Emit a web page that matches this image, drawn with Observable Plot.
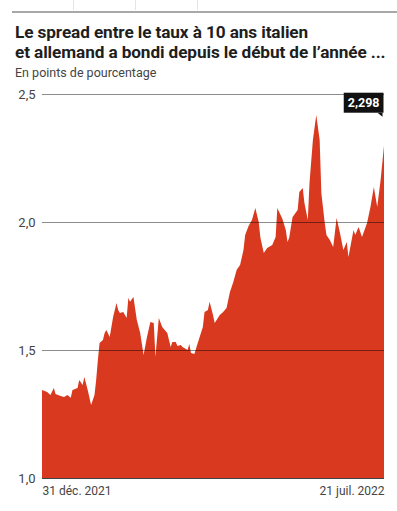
<!DOCTYPE html>
<html>
<head>
<meta charset="utf-8">
<script src="https://cdn.jsdelivr.net/npm/d3@7"></script>
<script src="https://cdn.jsdelivr.net/npm/@observablehq/plot@0.6"></script>
<style>
  html, body { margin: 0; padding: 0; background: #fff; width: 397px; height: 511px; overflow: hidden; }
  #wrap { position: relative; width: 397px; height: 511px; font-family: Roboto, "Noto Sans", sans-serif; }
  .vline { position: absolute; top: 0; width: 1px; height: 10px; background: #e4e4e4; }
  #topline { position: absolute; left: 12px; right: 0; top: 11px; height: 2px; background: #a8a8a8; }
  #title { position: absolute; left: 15px; top: 22px; font-size: 17.2px; line-height: 20px; font-weight: 700; color: #1e1e1e; letter-spacing: -0.1px; white-space: nowrap; }
  #subtitle { position: absolute; left: 15px; top: 65px; font-size: 12.5px; color: #444; }
  #chart { position: absolute; left: 0; top: 84px; }
</style>
</head>
<body>
<div id="wrap">
  <div class="vline" style="left:73px"></div>
  <div class="vline" style="left:135px"></div>
  <div class="vline" style="left:197px"></div>
  <div id="topline"></div>
  <div id="title">Le spread entre le taux à 10 ans italien<br>et allemand a bondi depuis le début de l’année ...</div>
  <div id="subtitle">En points de pourcentage</div>
  <div id="chart"></div>
</div>
<script>
const dates = [
  "2021-12-31","2022-01-03","2022-01-05","2022-01-07","2022-01-08","2022-01-11","2022-01-13","2022-01-15","2022-01-17","2022-01-18",
  "2022-01-21","2022-01-22","2022-01-24","2022-01-25","2022-01-27","2022-01-29","2022-01-31","2022-02-01","2022-02-02","2022-02-03",
  "2022-02-05","2022-02-06","2022-02-07","2022-02-09","2022-02-11","2022-02-13","2022-02-14","2022-02-15","2022-02-17","2022-02-19",
  "2022-02-20","2022-02-21","2022-02-23","2022-02-25","2022-02-27","2022-03-01","2022-03-03","2022-03-05","2022-03-07","2022-03-08",
  "2022-03-10","2022-03-12","2022-03-15","2022-03-17","2022-03-18","2022-03-20","2022-03-21","2022-03-23","2022-03-24","2022-03-27",
  "2022-03-28","2022-03-29","2022-03-31","2022-04-02","2022-04-05","2022-04-06","2022-04-08","2022-04-09","2022-04-11","2022-04-12",
  "2022-04-15","2022-04-17","2022-04-19","2022-04-21","2022-04-23","2022-04-25","2022-04-27","2022-04-29","2022-04-30","2022-05-02",
  "2022-05-04","2022-05-06","2022-05-08","2022-05-09","2022-05-11","2022-05-13","2022-05-16","2022-05-18","2022-05-19","2022-05-22",
  "2022-05-24","2022-05-25","2022-05-26","2022-05-28","2022-05-31","2022-06-01","2022-06-03","2022-06-04","2022-06-06","2022-06-07",
  "2022-06-09","2022-06-11","2022-06-13","2022-06-14","2022-06-16","2022-06-17","2022-06-19","2022-06-21","2022-06-23","2022-06-25",
  "2022-06-27","2022-06-29","2022-06-30","2022-07-03","2022-07-04","2022-07-06","2022-07-08","2022-07-11","2022-07-13","2022-07-15",
  "2022-07-16","2022-07-17","2022-07-19","2022-07-21"
];
const spread = [
  1.344,1.336,1.324,1.352,1.328,1.320,1.316,1.324,1.313,1.344,
  1.352,1.383,1.363,1.395,1.344,1.285,1.324,1.383,1.461,1.527,
  1.539,1.566,1.578,1.551,1.629,1.684,1.656,1.645,1.648,1.625,
  1.703,1.688,1.707,1.617,1.566,1.480,1.551,1.609,1.605,1.473,
  1.625,1.590,1.566,1.512,1.531,1.531,1.516,1.520,1.512,1.500,
  1.523,1.488,1.484,1.527,1.590,1.648,1.656,1.688,1.637,1.605,
  1.637,1.648,1.664,1.727,1.766,1.813,1.832,1.891,1.949,1.984,
  2.008,2.055,2.000,1.938,1.879,1.898,1.910,1.941,2.055,2.012,
  1.969,1.922,1.938,2.020,2.047,2.117,2.133,2.074,2.008,2.152,
  2.320,2.418,2.320,2.113,1.996,1.949,1.930,1.902,2.016,1.957,
  1.891,1.922,1.863,1.969,1.949,1.980,1.941,1.996,2.059,2.137,
  2.098,2.059,2.164,2.298
];
const yTicks = [1.0, 1.5, 2.0, 2.5];
const xLabelStart = "31 déc. 2021";
const xLabelEnd = "21 juil. 2022";
const lastLabel = "2,298";

const data = dates.map((d, i) => ({date: new Date(d), value: spread[i]}));
const first = data[0], last = data[data.length - 1];
const fmtY = d => d.toFixed(1).replace(".", ",");

const chart = Plot.plot({
  width: 397,
  height: 424,
  marginTop: 10,
  marginLeft: 42,
  marginRight: 13,
  marginBottom: 30,
  style: {fontFamily: "Roboto, 'Noto Sans', sans-serif", fontSize: "13px", color: "#444", background: "transparent"},
  x: {type: "utc", domain: [first.date, last.date]},
  y: {domain: [1, 2.5]},
  marks: [
    Plot.areaY(data, {x: "date", y1: 1, y2: "value", fill: "#d8391f", curve: "linear"}),
    Plot.ruleY(yTicks.slice(1), {x1: first.date, x2: last.date, stroke: "#000", strokeOpacity: 0.45, strokeWidth: 1}),
    Plot.ruleY([1], {x1: first.date, x2: last.date, stroke: "#444", strokeWidth: 1}),
    Plot.axisY({ticks: yTicks, tickFormat: fmtY, tickSize: 0, tickPadding: 7, label: null, fontSize: 13}),
    Plot.axisX({ticks: [first.date], tickFormat: () => xLabelStart, tickSize: 0, tickPadding: 8, textAnchor: "start", label: null, fontSize: 12}),
    Plot.axisX({ticks: [last.date], tickFormat: () => xLabelEnd, tickSize: 0, tickPadding: 8, textAnchor: "end", label: null, fontSize: 12}),
    Plot.text([last], {x: "date", y: "value", text: () => lastLabel, textAnchor: "end", lineAnchor: "middle", dx: -5, dy: -43, fill: "#fff", fontWeight: "bold", fontSize: 12.5, className: "lastlabel"})
  ]
});
document.getElementById("chart").appendChild(chart);

// Black label box behind the last-value text
const t = chart.querySelector(".lastlabel text") || chart.querySelector("g[aria-label='text'] text");
if (t) {
  const bb = t.getBBox();
  const ns = "http://www.w3.org/2000/svg";
  const g = t.closest("g");
  const tr = t.getAttribute("transform");
  const box = document.createElementNS(ns, "rect");
  const px = 4, py = 2.5;
  box.setAttribute("x", bb.x - px);
  box.setAttribute("y", bb.y - py);
  box.setAttribute("width", bb.width + 2 * px);
  box.setAttribute("height", bb.height + 2 * py);
  box.setAttribute("fill", "#111");
  if (tr) box.setAttribute("transform", tr);
  const tip = document.createElementNS(ns, "path");
  const bx = bb.x + bb.width + px, by = bb.y + bb.height + py;
  tip.setAttribute("d", `M${bx - 6},${by} L${bx - 1},${by} L${bx - 1},${by + 4} Z`);
  tip.setAttribute("fill", "#111");
  if (tr) tip.setAttribute("transform", tr);
  g.insertBefore(tip, g.firstChild);
  g.insertBefore(box, g.firstChild);
}
</script>
</body>
</html>
